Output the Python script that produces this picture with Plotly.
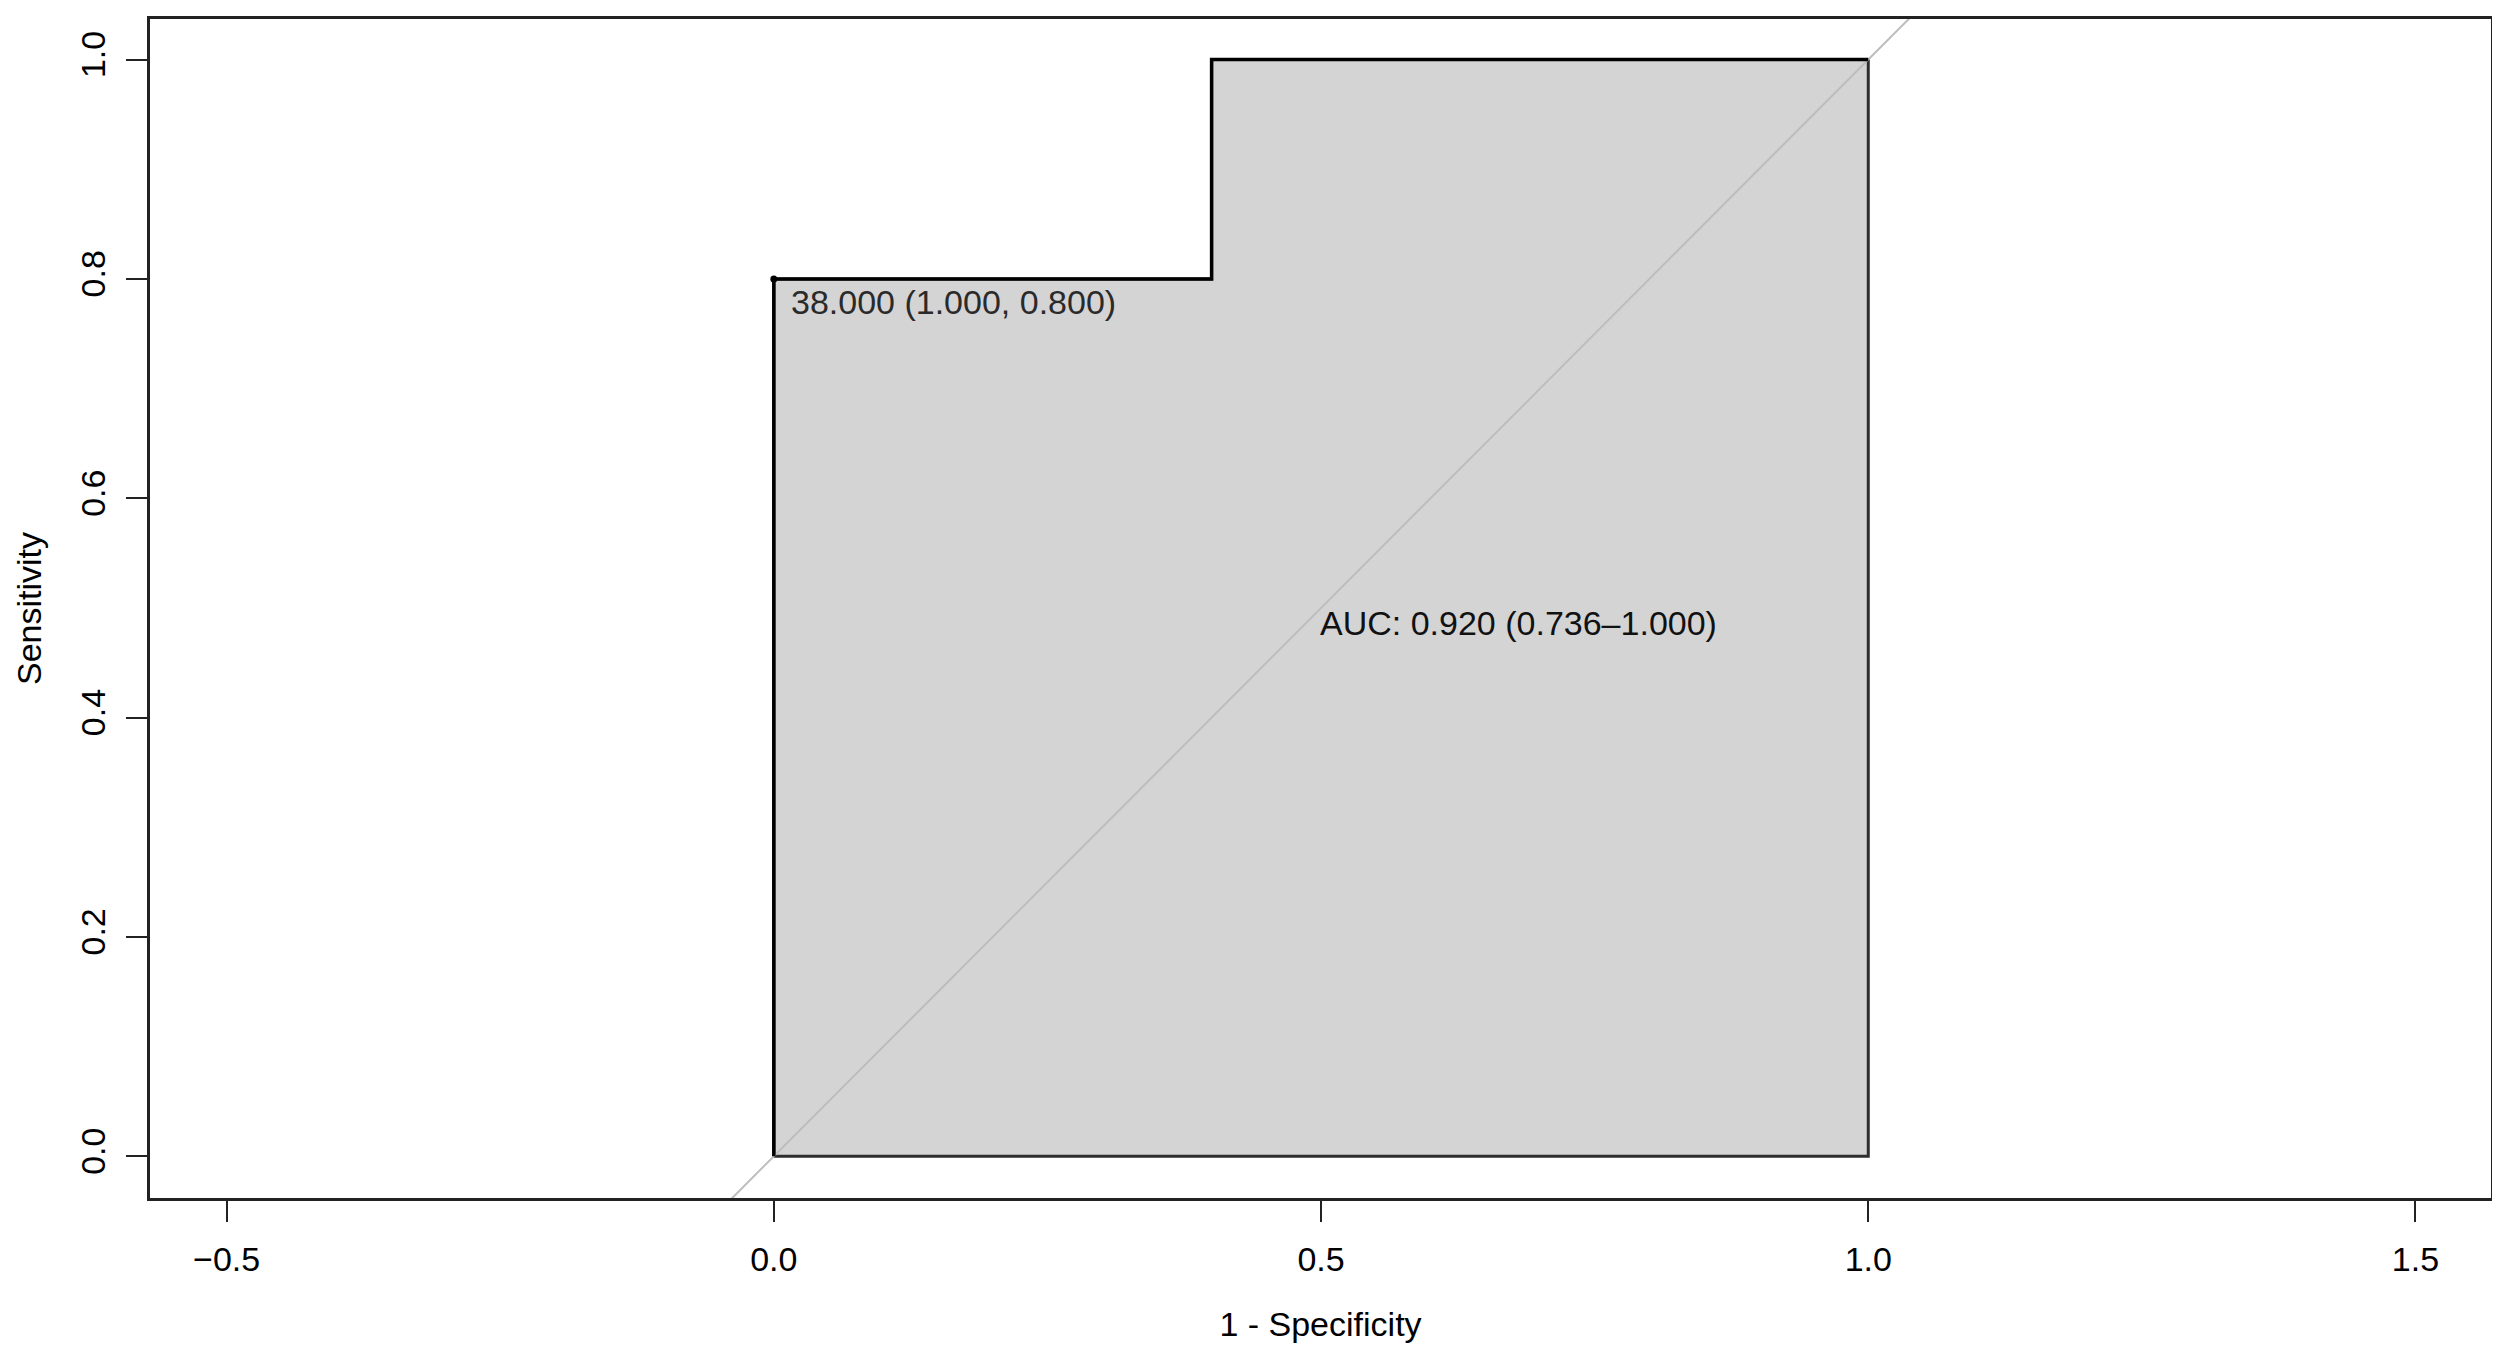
import plotly.graph_objects as go

# ROC curve points (x = 1 - specificity, y = sensitivity)
fpr = [0.0, 0.0, 0.4, 0.4, 1.0]
tpr = [0.0, 0.8, 0.8, 1.0, 1.0]

# best threshold point
thr_x = 0.0
thr_y = 0.8
thr_label = "38.000 (1.000, 0.800)"
auc_label = "AUC: 0.920 (0.736\u20131.000)"

x_ticks = [-0.5, 0.0, 0.5, 1.0, 1.5]
y_ticks = [0.0, 0.2, 0.4, 0.6, 0.8, 1.0]
x_range = [-0.570, 1.569]
y_range = [-0.038, 1.037]

FONT = "Liberation Sans, Arial, sans-serif"

fig = go.Figure()

# AUC polygon (curve closed down to the baseline)
fig.add_trace(go.Scatter(
    x=fpr + [fpr[-1], fpr[0]],
    y=tpr + [0.0, 0.0],
    fill="toself",
    fillcolor="#d4d4d4",
    mode="lines",
    line=dict(color="#2e2e2e", width=3),
    hoverinfo="skip",
))

# identity line, clipped by the plot area
fig.add_trace(go.Scatter(
    x=[x_range[0] - 1, x_range[1] + 1],
    y=[x_range[0] - 1, x_range[1] + 1],
    mode="lines",
    line=dict(color="#bdbdbd", width=2),
    hoverinfo="skip",
))

# ROC curve
fig.add_trace(go.Scatter(
    x=fpr, y=tpr,
    mode="lines",
    line=dict(color="black", width=3.5),
))

# threshold point
fig.add_trace(go.Scatter(
    x=[thr_x], y=[thr_y],
    mode="markers",
    marker=dict(color="black", size=7),
))

fig.add_annotation(
    x=thr_x, y=thr_y, text=thr_label, showarrow=False,
    xanchor="left", yanchor="middle", xshift=15, yshift=-23,
    font=dict(family=FONT, size=34, color="#2a2a2a"),
)
fig.add_annotation(
    x=0.5, y=0.5, text=auc_label, showarrow=False,
    xanchor="left", yanchor="top", xshift=-3, yshift=6,
    font=dict(family=FONT, size=34, color="#111111"),
)

axis_common = dict(
    showgrid=False, zeroline=False,
    showline=True, mirror=True, linecolor="#222222", linewidth=3,
    ticks="outside", ticklen=21, tickwidth=2, tickcolor="#222222",
    tickformat=".1f",
    tickfont=dict(family=FONT, size=34, color="black"),
    title_font=dict(family=FONT, size=34, color="black"),
)

fig.update_xaxes(
    range=x_range, tickvals=x_ticks, title_text="1 - Specificity",
    title_standoff=36, ticklabelstandoff=8, **axis_common,
)
fig.update_yaxes(
    range=y_range, tickvals=y_ticks, title_text="Sensitivity",
    tickangle=-90, title_standoff=23, ticklabelstandoff=7, **axis_common,
)

# the page body adds an 8px offset, so the figure is 8px smaller
fig.update_layout(
    width=2492, height=1343,
    margin=dict(l=142, r=9, t=11, b=153, autoexpand=False),
    plot_bgcolor="white", paper_bgcolor="white",
    showlegend=False,
    font=dict(family=FONT, size=34, color="black"),
)

fig.write_html("out.html")
